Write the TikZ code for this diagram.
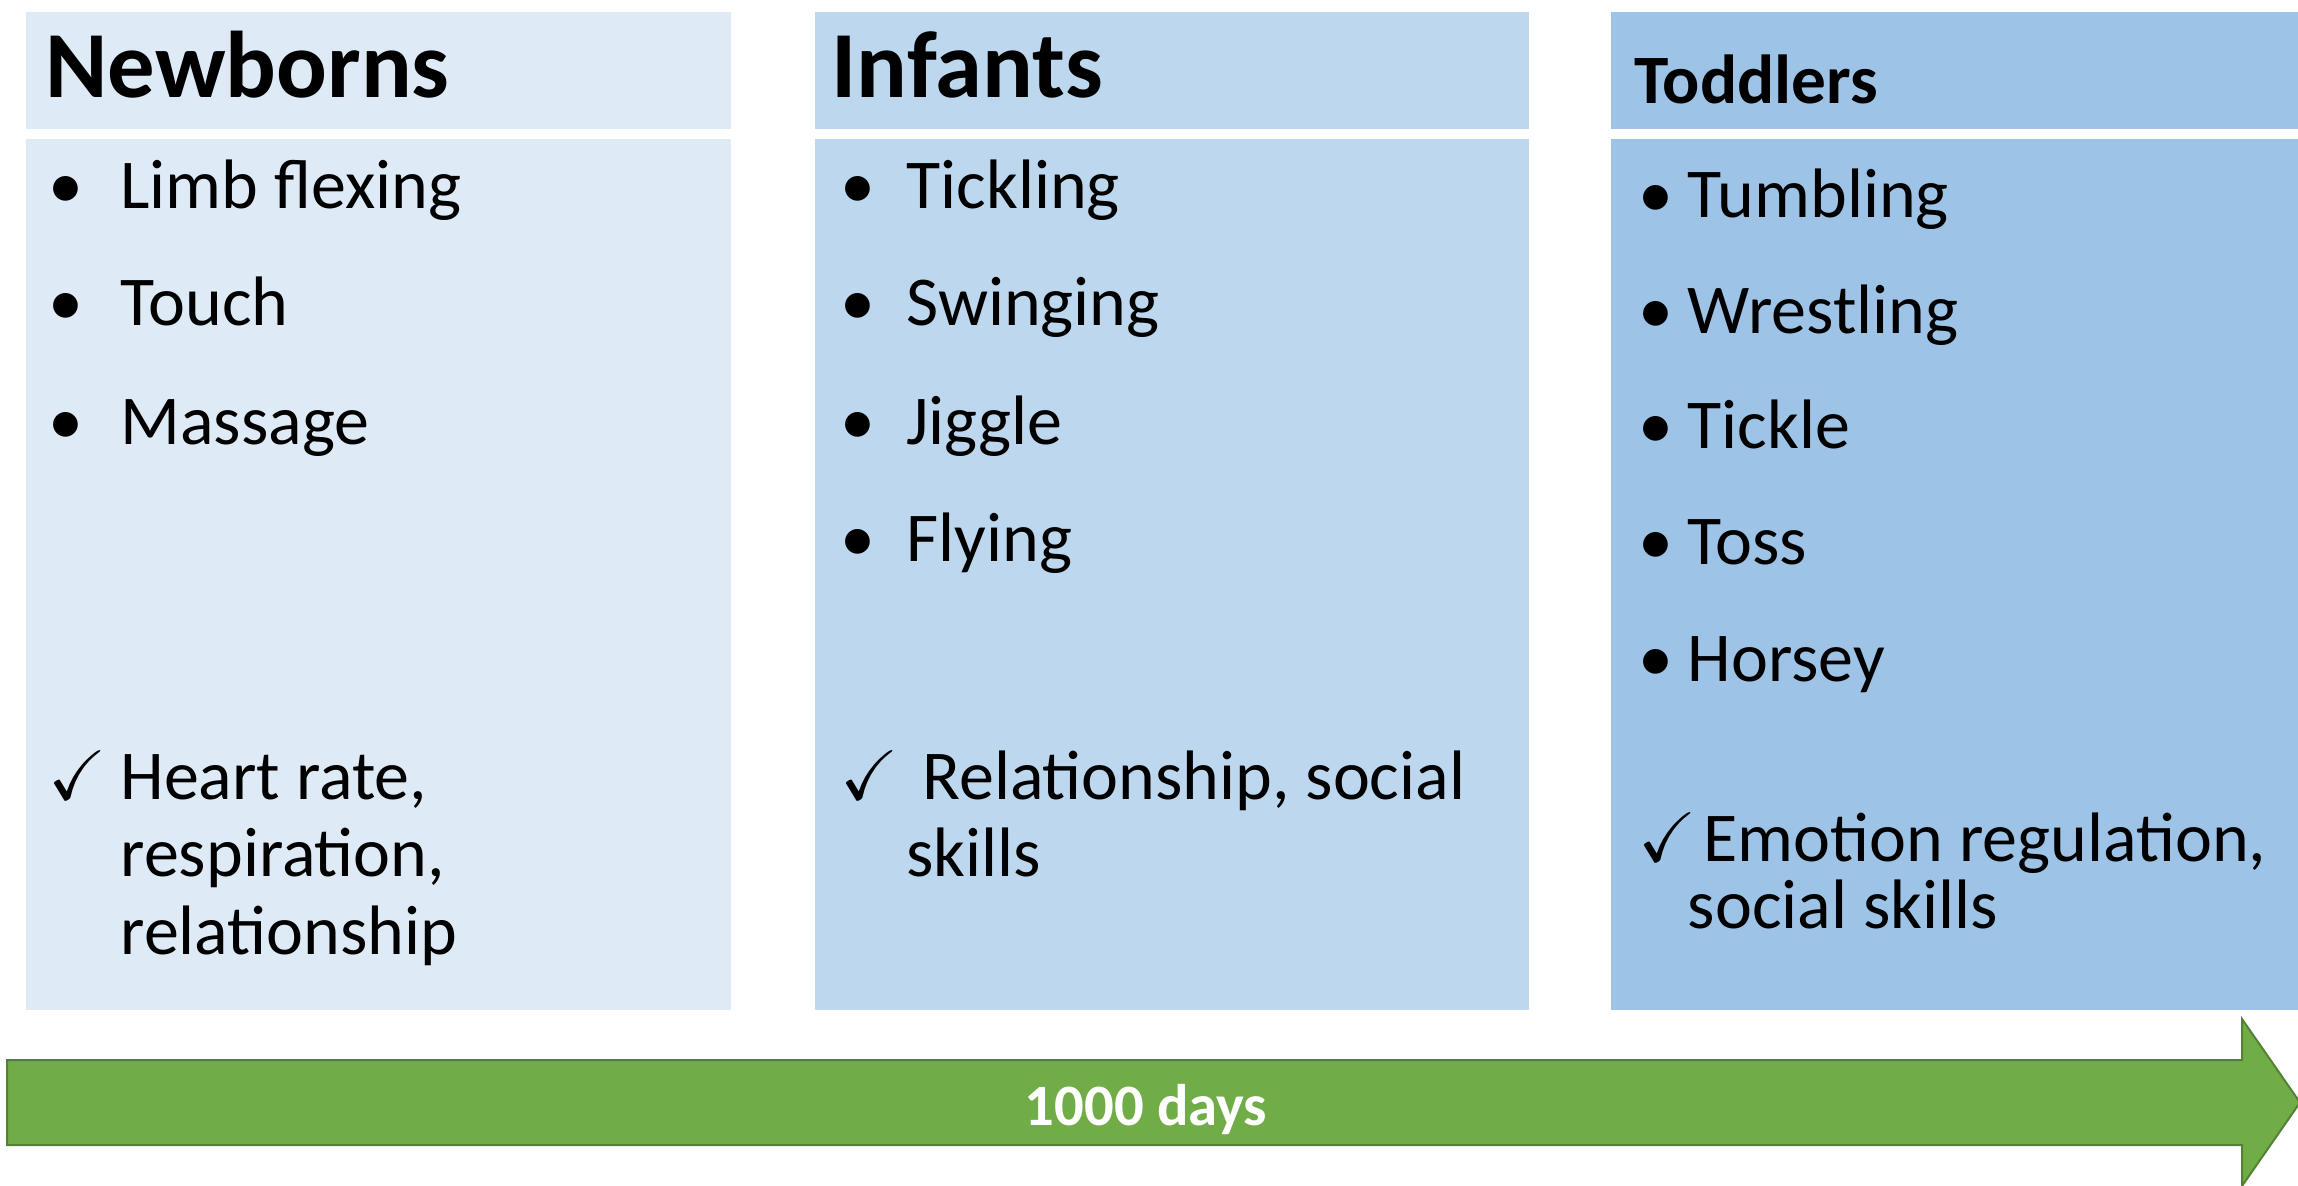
\documentclass[tikz,border=0pt]{standalone}
\usepackage{amssymb}
\usepackage{fontspec}
\setmainfont{Carlito}

\definecolor{nbfill}{RGB}{222,235,247}
\definecolor{inffill}{RGB}{189,215,238}
\definecolor{todfill}{RGB}{157,195,230}
\definecolor{arrfill}{RGB}{112,173,71}
\definecolor{arrline}{RGB}{84,130,53}

\tikzset{every picture/.style={line width=0.75pt}}
\tikzset{
  hdtext/.style={anchor=base west, inner sep=0pt, font=\fontsize{71}{80}\selectfont\bfseries},
  hdsmall/.style={anchor=base west, inner sep=0pt, font=\fontsize{52}{60}\selectfont\bfseries},
  itemtext/.style={anchor=base west, inner sep=0pt, font=\fontsize{52.5}{60}\selectfont},
  tighttext/.style={anchor=base west, inner sep=0pt, align=left, font=\fontsize{52.5}{50}\selectfont},
  daystext/.style={anchor=base, inner sep=0pt, text=white, font=\fontsize{44}{50}\selectfont\bfseries}
}
\newcommand{\bul}[1]{\makebox[#1][l]{\textbullet}}
\newcommand{\chk}[1]{\makebox[#1][l]{\checkmark}}

\begin{document}
\begin{tikzpicture}[x=0.75pt,y=0.75pt,yscale=-1,xscale=1]
    \useasboundingbox (0,0) rectangle (2298,1185);
    \clip (0,0) rectangle (2298,1185);

    %Shape: Rectangle [newborns header]
    \fill [nbfill] (26,12) -- (731,12) -- (731,129) -- (26,129) -- cycle ;
    %Shape: Rectangle [newborns body]
    \fill [nbfill] (26,139) -- (731,139) -- (731,1010) -- (26,1010) -- cycle ;
    %Shape: Rectangle [infants header]
    \fill [inffill] (815,12) -- (1529,12) -- (1529,129) -- (815,129) -- cycle ;
    %Shape: Rectangle [infants body]
    \fill [inffill] (815,139) -- (1529,139) -- (1529,1010) -- (815,1010) -- cycle ;
    %Shape: Rectangle [toddlers header]
    \fill [todfill] (1611,12) -- (2298,12) -- (2298,129) -- (1611,129) -- cycle ;
    %Shape: Rectangle [toddlers body]
    \fill [todfill] (1611,139) -- (2298,139) -- (2298,1010) -- (1611,1010) -- cycle ;

    %Right Arrow [1000 days]
    \draw [draw=arrline, fill=arrfill, line width=1.5] (7,1060) -- (2242,1060) -- (2242,1019) -- (2300,1102.5) -- (2242,1186) -- (2242,1145) -- (7,1145) -- cycle ;

    % Text Node
    \draw (45,97) node (nbHead) [hdtext] {Newborns};
    % Text Node
    \draw (831,97) node (infHead) [hdtext] {Infants};
    % Text Node
    \draw (1634,103) node (todHead) [hdsmall] {Toddlers};

    % Text Node
    \draw (48,208) node (nbA) [itemtext] {\bul{54pt}Limb flexing};
    % Text Node
    \draw (48,325) node (nbB) [itemtext] {\bul{54pt}Touch};
    % Text Node
    \draw (48,444) node (nbC) [itemtext] {\bul{54pt}Massage};
    % Text Node
    \draw (48,799) node (nbD) [itemtext] {\chk{54pt}Heart rate,};
    % Text Node
    \draw (120,876) node (nbE) [itemtext] {respiration,};
    % Text Node
    \draw (120,954) node (nbF) [itemtext] {relationship};

    % Text Node
    \draw (840,208) node (infA) [itemtext] {\bul{49.5pt}Tickling};
    % Text Node
    \draw (840,325) node (infB) [itemtext] {\bul{49.5pt}Swinging};
    % Text Node
    \draw (840,444) node (infC) [itemtext] {\bul{49.5pt}Jiggle};
    % Text Node
    \draw (840,561) node (infD) [itemtext] {\bul{49.5pt}Flying};
    % Text Node
    \draw (840,799) node (infE) [itemtext] {\chk{49.5pt} Relationship, social};
    % Text Node
    \draw (906,876) node (infF) [itemtext] {skills};

    % Text Node
    \draw (1638,217) node (todA) [itemtext] {\bul{37pt}Tumbling};
    % Text Node
    \draw (1638,333) node (todB) [itemtext] {\bul{37pt}Wrestling};
    % Text Node
    \draw (1638,448) node (todC) [itemtext] {\bul{37pt}Tickle};
    % Text Node
    \draw (1638,564) node (todD) [itemtext] {\bul{37pt}Toss};
    % Text Node
    \draw (1638,681) node (todE) [itemtext] {\bul{37pt}Horsey};
    % Text Node (base is the last line)
    \draw (1638,928) node (todF) [tighttext] {\chk{37pt} Emotion regulation,\\\hspace*{37pt}social skills};

    % Text Node
    \draw (1146,1125) node (days) [daystext] {1000 days};

\end{tikzpicture}
\end{document}
